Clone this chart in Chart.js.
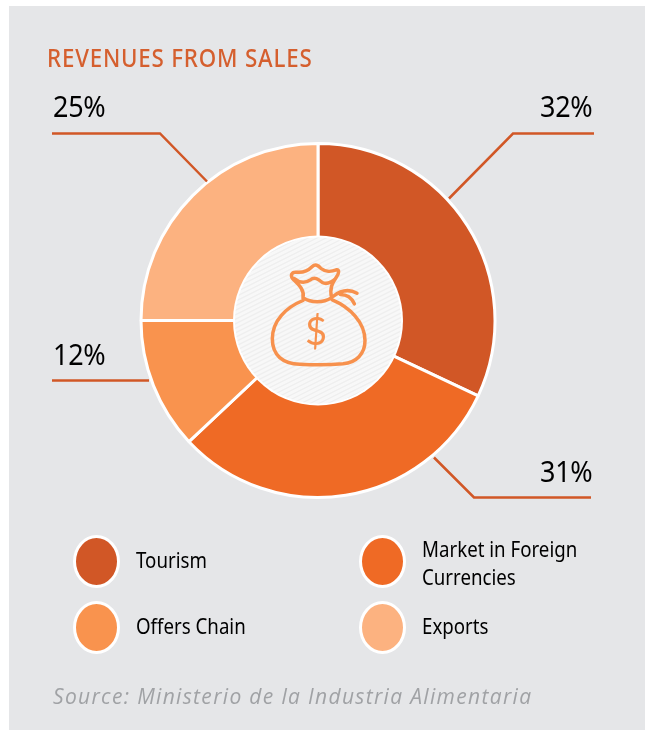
<!DOCTYPE html>
<html>
<head>
<meta charset="utf-8">
<title>Revenues from sales</title>
<script src="https://cdn.jsdelivr.net/npm/chart.js@4"></script>
<style>
    html, body { margin: 0; padding: 0; background: #fff; }
    body { width: 645px; height: 730px; overflow: hidden; position: relative; }
    #panel { position: absolute; left: 9px; top: 6px; width: 636px; height: 724px; background: #e5e6e8; }
    #grafico { position: absolute; left: 0; top: 0; }
    .txt { position: absolute; white-space: nowrap; transform-origin: 0 0; font-family: "Noto Sans", sans-serif; color: #000; }
    #titulo { left: 47px; top: 40px; font-size: 25px; font-weight: 500; color: #d55f2e; letter-spacing: .9px; transform: scaleX(.893); }
    .pct { font-size: 29px; letter-spacing: -.3px; transform: scaleX(.93); }
    .ley { font-size: 21px; line-height: 28px; transform: scaleX(.89); }
    .punto { position: absolute; width: 41px; height: 47px; border: 3px solid #fff; border-radius: 50%; box-sizing: content-box; }
    #fuente { left: 53px; top: 682px; font-family: "Open Sans", sans-serif; font-style: italic; font-size: 21px; letter-spacing: 1.33px; color: #a0a2a5; }
    #signo { left: 305px; top: 309px; font-family: "Lato", sans-serif; font-weight: 400; font-size: 38px; line-height: 42px; color: #f7914d; }
</style>
</head>
<body>
<div id="panel"></div>
<canvas id="grafico" width="645" height="730"></canvas>
<div class="txt" id="titulo">REVENUES FROM SALES</div>
<div class="txt" id="signo">$</div>
<div class="txt" id="fuente">Source: Ministerio de la Industria Alimentaria</div>
<script>
const categorias = ["Tourism", "Market in Foreign Currencies", "Offers Chain", "Exports"];
const valores    = [32, 31, 12, 25];
const colores    = ["#d15726", "#ef6a25", "#f9934e", "#fcb280"];

// legend rows, the long label breaks in two lines
const leyendaLineas = [["Tourism"], ["Market in Foreign", "Currencies"], ["Offers Chain"], ["Exports"]];
const leyendaPos    = [[96, 561, 136], [382, 561, 422], [96, 627, 136], [382, 627, 422]];

// leader lines, offsets from the centre of the ring
const guias = [
    [[131, -122], [195, -187], [276, -187]],
    [[116, 137], [156, 177], [273, 177]],
    [[-169, 60], [-266, 60]],
    [[-111, -139], [-158, -187], [-266, -187]],
];
const pctPos = [[540, 86], [540, 451], [53, 334], [53, 86]];

const RADIO_HUECO = 85;

function pintarBolsa(ctx, cx, cy) {
    // traced from the icon, units are 1/3 px around the centre
    const p = (x, y) => [cx + (x - 295) / 3, cy + (y - 330) / 3];
    const curva = (a, b, c, d, e, f) => ctx.bezierCurveTo(...p(a, b), ...p(c, d), ...p(e, f));
    ctx.save();
    ctx.strokeStyle = "#f7914d";
    ctx.lineWidth = 3.5;
    ctx.lineCap = "round";
    ctx.lineJoin = "round";
    ctx.beginPath();
    // knot
    ctx.moveTo(...p(250, 262));
    curva(255, 240, 240, 225, 222, 208);
    curva(210, 196, 215, 184, 230, 185);
    curva(255, 188, 268, 178, 278, 168);
    curva(286, 160, 296, 164, 304, 174);
    curva(316, 184, 335, 184, 350, 178);
    curva(360, 176, 358, 190, 350, 200);
    curva(340, 215, 328, 232, 336, 262);
    curva(310, 278, 275, 278, 250, 262);
    // inner wave
    ctx.moveTo(...p(224, 204));
    curva(245, 222, 262, 215, 272, 208);
    curva(285, 198, 296, 206, 308, 216);
    curva(320, 222, 335, 216, 348, 204);
    // bag
    ctx.moveTo(...p(250, 270));
    curva(200, 290, 158, 330, 158, 385);
    curva(158, 435, 190, 460, 240, 461);
    curva(280, 463, 330, 463, 370, 460);
    curva(410, 456, 436, 430, 436, 390);
    curva(436, 335, 390, 290, 338, 268);
    // strings
    ctx.moveTo(...p(340, 258));
    curva(365, 238, 390, 236, 412, 248);
    ctx.moveTo(...p(362, 252));
    curva(380, 252, 396, 262, 404, 280);
    ctx.stroke();
    ctx.restore();
}

// white centre with faint stripes, the icon and the leader lines
const decoracion = {
    id: "decoracion",
    afterDatasetsDraw(chart) {
        const ctx = chart.ctx;
        const arco = chart.getDatasetMeta(0).data[0];
        const cx = arco.x, cy = arco.y;

        ctx.save();
        ctx.beginPath();
        ctx.arc(cx, cy, RADIO_HUECO, 0, Math.PI * 2);
        ctx.fillStyle = "#fff";
        ctx.fill();
        ctx.beginPath();
        ctx.arc(cx, cy, RADIO_HUECO - 2, 0, Math.PI * 2);
        ctx.clip();
        ctx.fillStyle = "#f8f8f8";
        ctx.fillRect(cx - 90, cy - 90, 180, 180);
        ctx.strokeStyle = "#eeeeee";
        ctx.lineWidth = 1.2;
        ctx.beginPath();
        for (let d = -200; d < 200; d += 4.5) {
            ctx.moveTo(cx - 100, cy + d + 50);
            ctx.lineTo(cx + 100, cy + d - 50);
        }
        ctx.stroke();
        ctx.restore();

        pintarBolsa(ctx, cx, cy);

        ctx.save();
        ctx.strokeStyle = "#d15726";
        ctx.lineWidth = 2.5;
        guias.forEach(g => {
            ctx.beginPath();
            g.forEach(([x, y], i) => i ? ctx.lineTo(cx + x, cy + y) : ctx.moveTo(cx + x, cy + y));
            ctx.stroke();
        });
        ctx.restore();
    }
};

new Chart(document.getElementById("grafico"), {
    type: "doughnut",
    data: {
        labels: categorias,
        datasets: [{
            data: valores,
            backgroundColor: colores,
            borderColor: "#fff",
            borderWidth: 3,
            borderAlign: "center",
            hoverOffset: 0,
        }]
    },
    options: {
        responsive: false,
        animation: false,
        cutout: "45%",
        layout: { padding: { left: 139, right: 148, top: 142, bottom: 231 } },
        plugins: { legend: { display: false }, tooltip: { enabled: false } },
    },
    plugins: [decoracion],
});

// percent labels and legend as plain text on top of the canvas
valores.forEach((v, i) => {
    const el = document.createElement("div");
    el.className = "txt pct";
    el.textContent = v + "%";
    el.style.left = pctPos[i][0] + "px";
    el.style.top = pctPos[i][1] + "px";
    document.body.appendChild(el);
});

categorias.forEach((c, i) => {
    const [px, py, tx] = leyendaPos[i];
    const punto = document.createElement("div");
    punto.className = "punto";
    punto.style.left = (px - 23.5) + "px";
    punto.style.top = (py - 26.5) + "px";
    punto.style.background = colores[i];
    document.body.appendChild(punto);

    const el = document.createElement("div");
    el.className = "txt ley";
    el.innerHTML = leyendaLineas[i].join("<br>");
    el.style.left = tx + "px";
    el.style.top = (py - 15 - 11 * (leyendaLineas[i].length - 1)) + "px";
    document.body.appendChild(el);
});
</script>
</body>
</html>
